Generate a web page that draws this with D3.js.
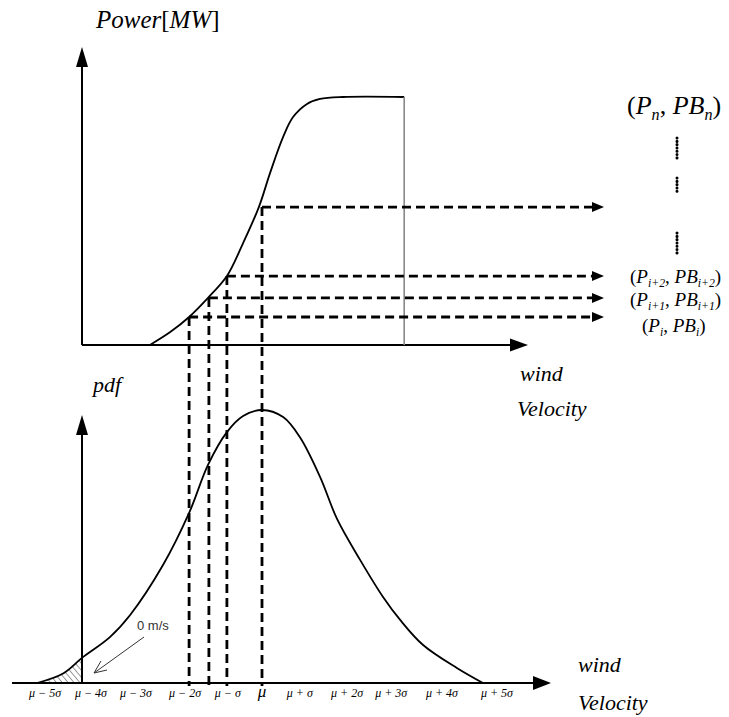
<!DOCTYPE html>
<html><head><meta charset="utf-8">
<script src="https://cdn.jsdelivr.net/npm/d3@7"></script>
<style>body{margin:0;background:#fff}svg{display:block}
.sf{font-family:"Liberation Serif","Times New Roman",serif;}
</style>
</head><body>
<script>
// ---------- data (velocity in sigma units relative to mu) ----------
const sigmaTickLabels = ["μ − 5σ","μ − 4σ","μ − 3σ","μ − 2σ","μ − σ","μ","μ + σ","μ + 2σ","μ + 3σ","μ + 4σ","μ + 5σ"];
const sigmaTickPos = [-4.82,-3.8,-2.8,-1.71,-0.76,0,0.84,1.89,2.87,4.0,5.22];
const pdfVel = [-5.0,-4.42,-4.0,-3.38,-2.93,-2.2,-1.62,-1.2,-0.78,-0.42,0,0.47,0.84,1.29,1.67,2.18,2.69,3.07,3.58,4.33,4.91];
const pdfVal = [0,0.035,0.092,0.168,0.249,0.432,0.623,0.799,0.919,0.978,1,0.974,0.901,0.755,0.6,0.451,0.315,0.231,0.139,0.055,0];
const powerVel = [-2.49,-2.04,-1.62,-1.2,-0.78,-0.42,-0.07,0.18,0.47,0.69,1.0,1.29,1.8,3.16];
const powerVal = [0,0.052,0.113,0.19,0.278,0.411,0.556,0.694,0.839,0.919,0.972,0.992,1,1];
const cutOutVel = 3.16;
const zeroVel = -4.0;
const sampleVel = [-1.62,-1.18,-0.78,0];
const samplePower = [0.113,0.19,0.278,0.556];
const pairSubs = ["i","i+1","i+2"];

const W = 729, H = 717;
const svg = d3.select("body").append("svg").attr("width", W).attr("height", H);
const x = d3.scaleLinear().domain([-5,5]).range([37,487]);
const yP = d3.scaleLinear().domain([0,1]).range([345,97]);
const yD = d3.scaleLinear().domain([0,1]).range([683,410]);

const defs = svg.append("defs");
const pat = defs.append("pattern").attr("id","hatch").attr("patternUnits","userSpaceOnUse")
  .attr("width",4.5).attr("height",4.5).attr("patternTransform","rotate(-40)");
pat.append("line").attr("x1",0).attr("y1",0).attr("x2",0).attr("y2",4.5).attr("stroke","#333").attr("stroke-width",1);
defs.append("clipPath").attr("id","tailclip").append("rect")
  .attr("x", x(-5)-2).attr("y", 0).attr("width", x(zeroVel)-x(-5)+2).attr("height", H);

function arrowHead(g, tx, ty, dir, len, wid) {
  let pts;
  if (dir === "up") pts = [[tx,ty],[tx-wid/2,ty+len],[tx+wid/2,ty+len]];
  else pts = [[tx,ty],[tx-len,ty-wid/2],[tx-len,ty+wid/2]];
  g.append("path").attr("d", d3.line()(pts)+"Z").attr("fill","#000");
}

const pdfPts = pdfVel.map((v,i)=>[v,pdfVal[i]]);
const powPts = powerVel.map((v,i)=>[v,powerVal[i]]);
const smooth = d3.curveCatmullRom.alpha(0.5);

// ---------- hatched tail ----------
svg.append("path").datum(pdfPts)
  .attr("d", d3.area().x(d=>x(d[0])).y0(yD(0)).y1(d=>yD(d[1])).curve(smooth))
  .attr("fill","url(#hatch)").attr("clip-path","url(#tailclip)");

// ---------- axes ----------
const ax = svg.append("g");
ax.append("line").attr("x1",x(zeroVel)).attr("y1",yP(0)).attr("x2",x(zeroVel)).attr("y2",60).attr("stroke","#000").attr("stroke-width",2);
arrowHead(ax, x(zeroVel), 47, "up", 20, 12);
ax.append("line").attr("x1",x(zeroVel)).attr("y1",yP(0)).attr("x2",515).attr("y2",yP(0)).attr("stroke","#000").attr("stroke-width",2);
arrowHead(ax, 528, yP(0), "right", 18, 13);
ax.append("line").attr("x1",x(zeroVel)).attr("y1",yD(0)).attr("x2",x(zeroVel)).attr("y2",428).attr("stroke","#000").attr("stroke-width",2);
arrowHead(ax, x(zeroVel), 415, "up", 20, 12);
ax.append("line").attr("x1",12).attr("y1",yD(0)).attr("x2",535).attr("y2",yD(0)).attr("stroke","#000").attr("stroke-width",2);
arrowHead(ax, 551, yD(0), "right", 18, 14);

// ---------- curves ----------
svg.append("path").datum(pdfPts)
  .attr("d", d3.line().x(d=>x(d[0])).y(d=>yD(d[1])).curve(smooth))
  .attr("fill","none").attr("stroke","#000").attr("stroke-width",1.8);
svg.append("path").datum(powPts)
  .attr("d", d3.line().x(d=>x(d[0])).y(d=>yP(d[1])).curve(smooth))
  .attr("fill","none").attr("stroke","#000").attr("stroke-width",1.8);
svg.append("line").attr("x1",x(cutOutVel)).attr("x2",x(cutOutVel)).attr("y1",yP(1)).attr("y2",yP(0))
  .attr("stroke","#888").attr("stroke-width",1.6);

// ---------- dashed projections ----------
const dg = svg.append("g");
sampleVel.forEach((v,i)=>{
  dg.append("line").attr("x1",x(v)).attr("x2",x(v)).attr("y1",yP(samplePower[i])).attr("y2",yD(0)+3)
    .attr("stroke","#000").attr("stroke-width",2.8).attr("stroke-dasharray","9,5");
  dg.append("line").attr("x1",x(v)).attr("x2",592).attr("y1",yP(samplePower[i])).attr("y2",yP(samplePower[i]))
    .attr("stroke","#000").attr("stroke-width",2.8).attr("stroke-dasharray","9,5");
  arrowHead(dg, 604, yP(samplePower[i]), "right", 12, 10);
});

// ---------- tick labels ----------
svg.append("g").selectAll("text").data(sigmaTickLabels).join("text")
  .attr("class","sf")
  .attr("x",(d,i)=>x(sigmaTickPos[i])).attr("y",697)
  .attr("text-anchor","middle").style("font-style","italic")
  .style("font-size",d=>d==="μ"?"17px":"12px").attr("fill","#000").text(d=>d);

// ---------- texts ----------
function txt(t,xx,yy,size){
  return svg.append("text").attr("class","sf").attr("x",xx).attr("y",yy)
    .style("font-style","italic").style("font-size",size+"px").attr("fill","#000").text(t);
}
const pw = svg.append("text").attr("class","sf").attr("x",96).attr("y",28).style("font-size","25px").attr("fill","#000");
pw.append("tspan").style("font-style","italic").text("Power");
pw.append("tspan").text("[");
pw.append("tspan").style("font-style","italic").text("MW");
pw.append("tspan").text("]");
txt("pdf",93,392,22);
txt("wind",520,381,22);
txt("Velocity",517,416,22);
txt("wind",578,672,22);
txt("Velocity",578,710,22);

svg.append("text").attr("x",137).attr("y",630).style("font-family","'Liberation Sans',Arial,sans-serif")
  .style("font-size","13px").attr("fill","#333").text("0 m/s");
svg.append("line").attr("x1",144).attr("y1",637).attr("x2",94).attr("y2",673).attr("stroke","#333").attr("stroke-width",1);
svg.append("path").attr("d","M101,661 L94,673 L107,670").attr("fill","none").attr("stroke","#333").attr("stroke-width",1);

// ---------- right labels ----------
function pair(xx,yy,sub,size){
  const t = svg.append("text").attr("class","sf").attr("x",xx).attr("y",yy).style("font-size",size+"px").attr("fill","#000");
  t.append("tspan").text("(");
  t.append("tspan").style("font-style","italic").text("P");
  t.append("tspan").style("font-style","italic").style("font-size",(size*0.62)+"px").attr("dy",size*0.22).text(sub);
  t.append("tspan").attr("dy",-size*0.22).text(", ");
  t.append("tspan").style("font-style","italic").text("PB");
  t.append("tspan").style("font-style","italic").style("font-size",(size*0.62)+"px").attr("dy",size*0.22).text(sub);
  t.append("tspan").attr("dy",-size*0.22).text(")");
}
pair(627,114,"n",26);
pair(630,283,pairSubs[2],19);
pair(630,306,pairSubs[1],19);
pair(642,332,pairSubs[0],19);
[[138,158],[178,194],[233,255]].forEach(s=>{
  svg.append("line").attr("x1",677).attr("x2",677).attr("y1",s[0]).attr("y2",s[1])
    .attr("stroke","#000").attr("stroke-width",3).attr("stroke-linecap","round").attr("stroke-dasharray","0.1,3.2");
});
</script>
</body></html>
